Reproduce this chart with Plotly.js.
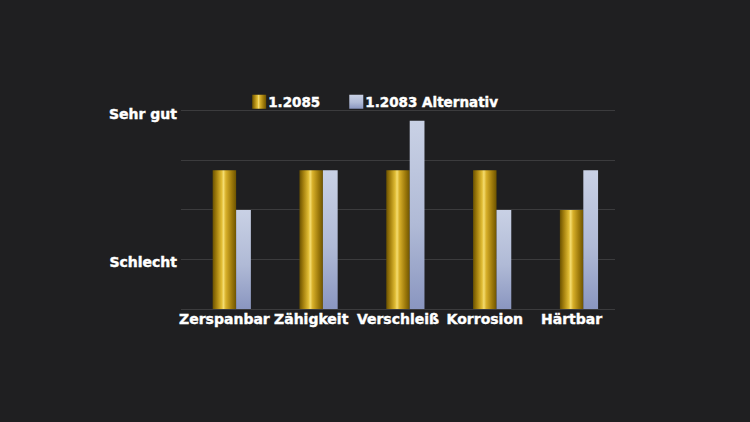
<!DOCTYPE html>
<html>
<head>
<meta charset="utf-8">
<script src="https://cdn.plot.ly/plotly-3.0.1.min.js"></script>
<style>
  html, body { margin: 0; padding: 0; background: #1f1f21; }
  #graphDiv { width: 750px; height: 422px; }
  #graphDiv text { stroke: #ffffff; stroke-width: 0.4px; }
</style>
</head>
<body>
<div id="graphDiv"></div>
<script>
// categories and values (0 = bottom, 1 = Schlecht, 4 = Sehr gut)
const categories = ['Zerspanbar', 'Zähigkeit', 'Verschleiß', 'Korrosion', 'Härtbar'];
const steel2085 = [2.8, 2.8, 2.8, 2.8, 2.0];
const steel2083 = [2.0, 2.8, 3.8, 2.0, 2.8];
const tickVals = [0, 1, 2, 3, 4];
const tickText = ['', 'Schlecht', '', '', 'Sehr gut'];

drawGraph();

function drawGraph(){
  const font = {family: 'DejaVu Sans, sans-serif', size: 14, color: '#ffffff', weight: 700};
  const legendFont = {family: 'DejaVu Sans, sans-serif', size: 13.5, color: '#ffffff', weight: 700};

  const trace1 = {
    x: categories,
    y: steel2085,
    type: 'bar',
    name: '1.2085',
    width: 0.27,
    offset: -0.135,
    marker: {color: '#c9a21c', line: {width: 0}}
  };

  const trace2 = {
    x: categories,
    y: steel2083,
    type: 'bar',
    name: '1.2083 Alternativ',
    width: 0.17,
    offset: 0.135,
    marker: {color: '#aab4d2', line: {width: 0}}
  };

  let layout = {
    width: 750,
    height: 422,
    paper_bgcolor: '#1f1f21',
    plot_bgcolor: '#1f1f21',
    margin: {l: 181, r: 135, t: 106, b: 113},
    barmode: 'overlay',
    font: font,
    showlegend: true,
    legend: {
      orientation: 'h',
      x: 0.452, xanchor: 'center',
      y: 1.02, yanchor: 'middle',
      font: legendFont,
      itemwidth: 30,
      bgcolor: 'rgba(0,0,0,0)'
    },
    xaxis: {
      type: 'category',
      showgrid: false,
      showline: false,
      zeroline: false,
      ticks: '',
      tickfont: font
    },
    yaxis: {
      range: [0, 4.1],
      tickvals: tickVals,
      ticktext: tickText,
      showgrid: true,
      gridcolor: '#3b3b3d',
      gridwidth: 1,
      zeroline: true,
      zerolinecolor: '#3b3b3d',
      showline: false,
      ticks: '',
      ticklabelshift: 3,
      ticklabelstandoff: 3,
      tickfont: font
    }
  };

  const gd = document.getElementById('graphDiv');
  Plotly.newPlot(gd, [trace1, trace2], layout, {staticPlot: true}).then(addGradients);
  gd.on('plotly_afterplot', addGradients);
}

// give the bars their metallic look
function addGradients(){
  const svgNS = 'http://www.w3.org/2000/svg';
  const defs = document.querySelector('#graphDiv .main-svg defs');

  function grad(id, x2, y2, stops){
    if(document.getElementById(id)) return;
    const g = document.createElementNS(svgNS, 'linearGradient');
    g.setAttribute('id', id);
    g.setAttribute('x1', '0'); g.setAttribute('y1', '0');
    g.setAttribute('x2', x2); g.setAttribute('y2', y2);
    stops.forEach(s => {
      const st = document.createElementNS(svgNS, 'stop');
      st.setAttribute('offset', s[0]);
      st.setAttribute('stop-color', s[1]);
      g.appendChild(st);
    });
    defs.appendChild(g);
  }

  grad('goldGrad', '1', '0', [
    ['0%', '#6b5200'], ['18%', '#a88410'], ['38%', '#e0bc34'],
    ['46%', '#f4dc70'], ['56%', '#d8b02a'], ['80%', '#a07c0c'], ['100%', '#6e5400']
  ]);
  grad('blueGrad', '0', '1', [
    ['0%', '#c9d1e5'], ['55%', '#b0bad6'], ['100%', '#8a96c0']
  ]);

  const fills = ['url(#goldGrad)', 'url(#blueGrad)'];
  document.querySelectorAll('#graphDiv .barlayer .trace').forEach((t, i) => {
    t.querySelectorAll('path').forEach(p => { p.style.fill = fills[i]; });
  });
  document.querySelectorAll('#graphDiv .legend .traces').forEach((t, i) => {
    t.querySelectorAll('.legendpoints path').forEach(p => {
      p.style.fill = fills[i];
      p.setAttribute('d', 'M7,7H-7V-7H7Z');
    });
    // pull the label close to its swatch, as in the reference
    t.querySelectorAll('text.legendtext').forEach(tx => { tx.setAttribute('x', 29); });
  });
}
</script>
</body>
</html>
